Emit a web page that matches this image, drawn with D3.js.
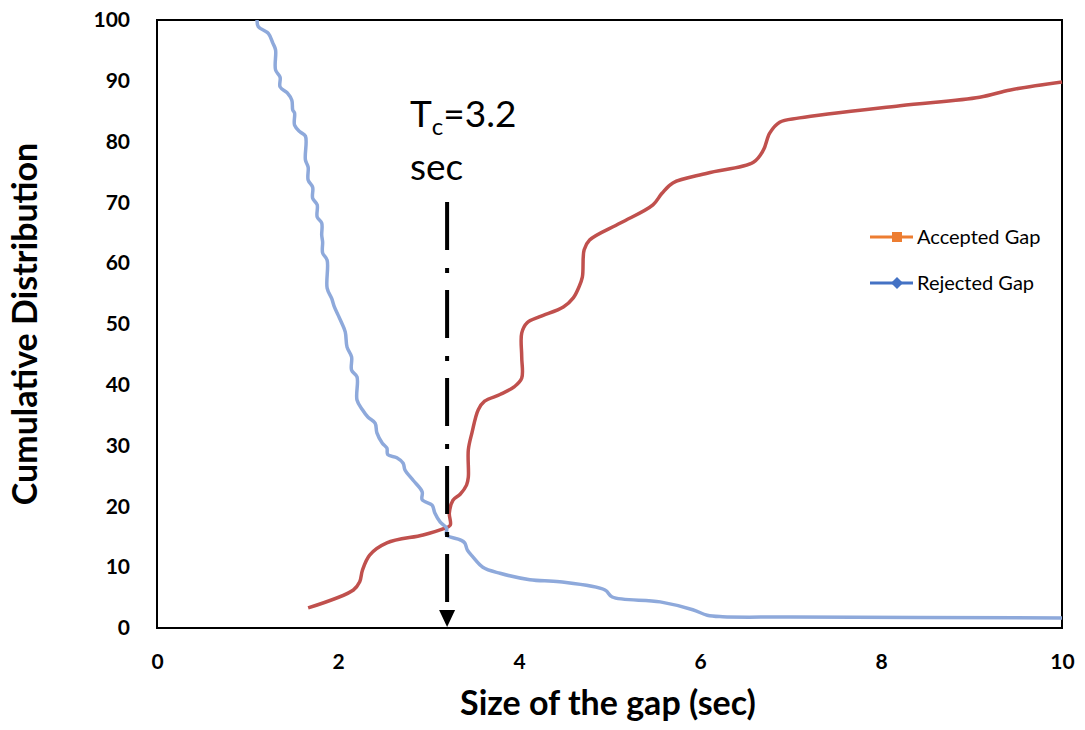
<!DOCTYPE html>
<html><head><meta charset="utf-8">
<script src="https://cdn.jsdelivr.net/npm/d3@7"></script>
<style>body{margin:0;background:#fff}svg{display:block}</style>
</head><body><svg id="c" width="1085" height="730"></svg>
<script>
const xTicks = [0, 2, 4, 6, 8, 10];
const yTicks = [0, 10, 20, 30, 40, 50, 60, 70, 80, 90, 100];
const seriesNames = ["Accepted Gap", "Rejected Gap"];
const criticalGap = 3.2;
const acceptedGap = [[1.67,3.3],[2.17,6.25],[2.24,7.6],[2.27,9.5],[2.35,12.0],[2.54,14.0],[2.94,15.3],[3.16,16.3],[3.24,16.9],[3.23,18.9],[3.27,21.0],[3.35,22.0],[3.42,23.5],[3.44,24.8],[3.44,29.3],[3.48,32.1],[3.55,35.9],[3.62,37.3],[3.79,38.4],[3.95,39.7],[4.03,41.1],[4.03,44.6],[4.03,48.5],[4.09,50.2],[4.23,51.2],[4.49,52.8],[4.60,54.3],[4.66,56.0],[4.70,57.7],[4.72,62.2],[4.78,63.8],[5.12,66.6],[5.48,69.6],[5.58,71.5],[5.70,73.2],[6.08,74.8],[6.59,76.6],[6.70,78.6],[6.77,81.4],[6.88,83.2],[7.10,83.9],[8.21,85.9],[9.09,87.3],[9.43,88.5],[10.0,89.8]];
const rejectedGap = [[1.105,100],[1.12,98.9],[1.23,97.8],[1.28,96.2],[1.31,95.1],[1.31,91.8],[1.36,90.6],[1.36,89.0],[1.44,88.0],[1.49,86.8],[1.50,85.2],[1.52,84.7],[1.52,82.7],[1.58,81.6],[1.64,80.9],[1.64,77.0],[1.67,75.8],[1.67,73.7],[1.72,72.5],[1.72,70.7],[1.77,69.6],[1.77,67.6],[1.82,66.6],[1.82,64.6],[1.83,63.5],[1.83,61.7],[1.88,60.5],[1.88,55.9],[1.93,54.2],[1.96,52.8],[2.0,51.5],[2.04,50.2],[2.08,48.7],[2.10,46.2],[2.15,44.6],[2.15,42.4],[2.21,41.3],[2.21,37.5],[2.27,35.9],[2.33,34.7],[2.41,33.7],[2.43,32.1],[2.49,30.4],[2.54,29.6],[2.55,28.5],[2.65,28.0],[2.72,27.1],[2.74,26.0],[2.83,24.3],[2.93,22.4],[2.93,21.1],[3.04,20.2],[3.07,18.9],[3.13,17.4],[3.20,16.4],[3.20,15.3],[3.35,14.5],[3.40,14.0],[3.43,12.8],[3.49,11.7],[3.60,10.0],[3.79,9.0],[4.12,7.95],[4.45,7.6],[4.95,6.25],[5.03,5.1],[5.56,4.3],[5.92,3.0],[6.08,2.1],[6.25,1.85],[7.0,1.8],[10.0,1.65]];

const svg = d3.select("#c");
const L = 157, R = 1062, T = 20, B = 628;
const x = d3.scaleLinear().domain([0, 10]).range([L, R]);
const y = d3.scaleLinear().domain([0, 100]).range([B, T]);
const font = "Lato, 'Open Sans', sans-serif";

// axes
const gx = svg.append("g").attr("transform", `translate(0,${B})`)
  .call(d3.axisBottom(x).tickValues(xTicks).tickSize(0).tickPadding(26).tickFormat(d3.format("d")));
gx.select(".domain").remove();
gx.selectAll("text").attr("font-family", font).attr("font-weight", "bold").attr("font-size", 21).attr("fill", "#000");
const gy = svg.append("g").attr("transform", `translate(${L},0)`)
  .call(d3.axisLeft(y).tickValues(yTicks).tickSize(0).tickPadding(27).tickFormat(d3.format("d")));
gy.select(".domain").remove();
gy.selectAll("text").attr("font-family", font).attr("font-weight", "bold").attr("font-size", 21).attr("fill", "#000");

// frame
svg.append("rect").attr("x", L).attr("y", T).attr("width", R - L).attr("height", B - T)
  .attr("fill", "none").attr("stroke", "#000").attr("stroke-width", 2);

// lines
const line = d3.line().x(d => x(d[0])).y(d => y(d[1])).curve(d3.curveCatmullRom.alpha(0.5));
svg.append("path").datum(acceptedGap).attr("d", line).attr("fill", "none")
  .attr("stroke", "#C0504D").attr("stroke-width", 3.5);
svg.append("path").datum(rejectedGap).attr("d", line).attr("fill", "none")
  .attr("stroke", "#8EA9DB").attr("stroke-width", 3.5);

// critical gap arrow
const ax = x(criticalGap) + 0.5;
svg.append("line").attr("x1", ax).attr("x2", ax).attr("y1", 202).attr("y2", 612)
  .attr("stroke", "#000").attr("stroke-width", 4).attr("stroke-dasharray", "48,18,5,17");
svg.append("path").attr("d", `M${ax-8},${610}L${ax+8},${610}L${ax},${B-1}Z`).attr("fill", "#000");

const ann = svg.append("text").attr("x", 410).attr("y", 127).attr("font-family", font).attr("font-size", 37).attr("fill", "#000");
ann.append("tspan").text("T");
ann.append("tspan").attr("font-size", 24).attr("dy", 8).text("c");
ann.append("tspan").attr("dy", -8).text("=3.2");
svg.append("text").attr("x", 410).attr("y", 180).attr("font-family", font).attr("font-size", 37).attr("fill", "#000").text("sec");

// legend
const leg = [{name: seriesNames[0], color: "#ED7D31", shape: "square", yy: 237},
             {name: seriesNames[1], color: "#4472C4", shape: "diamond", yy: 283}];
leg.forEach(l => {
  svg.append("line").attr("x1", 870).attr("x2", 913).attr("y1", l.yy).attr("y2", l.yy)
    .attr("stroke", l.color).attr("stroke-width", 3);
  if (l.shape === "square") {
    svg.append("rect").attr("x", 892).attr("y", l.yy - 5).attr("width", 10).attr("height", 10).attr("fill", l.color);
  } else {
    svg.append("path").attr("d", `M897,${l.yy-6}L903,${l.yy}L897,${l.yy+6}L891,${l.yy}Z`).attr("fill", l.color);
  }
  svg.append("text").attr("x", 917).attr("y", l.yy + 7).attr("font-family", font).attr("font-size", 20)
    .attr("fill", "#000").text(l.name);
});

// titles
svg.append("text").attr("x", 608).attr("y", 715).attr("text-anchor", "middle").attr("font-family", font)
  .attr("font-weight", "bold").attr("font-size", 34).attr("fill", "#000").text("Size of the gap (sec)");
svg.append("text").attr("transform", "translate(37,324) rotate(-90)").attr("text-anchor", "middle").attr("font-family", font)
  .attr("font-weight", "bold").attr("font-size", 34).attr("fill", "#000").text("Cumulative Distribution");
</script></body></html>
